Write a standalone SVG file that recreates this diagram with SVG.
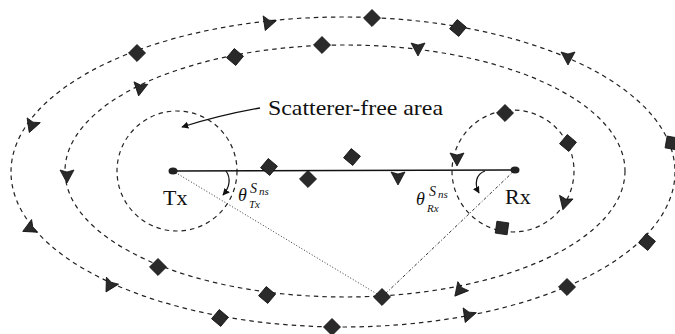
<svg xmlns="http://www.w3.org/2000/svg" width="675" height="334" viewBox="0 0 675 334">
<style>
.ring{fill:none;stroke:#222;stroke-width:1.2;stroke-dasharray:4.5 4}
.sc{fill:#2a2a2a;stroke:#111;stroke-width:0.8}
.lbl{font-family:"Liberation Serif","Times New Roman",serif;fill:#111}
.it{font-family:"Liberation Serif","Times New Roman",serif;font-style:italic;fill:#111}
.main{stroke:#111;stroke-width:1.3;fill:none}
.dot{stroke:#333;stroke-width:1;stroke-dasharray:1 2;fill:none}
.dashdot{stroke:#333;stroke-width:1;stroke-dasharray:3 2 1 2;fill:none}
.ang{stroke:#111;stroke-width:1.2;fill:none;marker-end:url(#ah)}
</style>
<defs>
<path id="dia" d="M-6,-6 H6 V6 H-6 Z"/>
<path id="tri" d="M-7,-5 L0,-3 L7,-5 L0,8 Z"/>
<marker id="ah" viewBox="0 0 10 10" refX="9" refY="5" markerWidth="7" markerHeight="7" markerUnits="userSpaceOnUse" orient="auto">
<path d="M0,0 L10,5 L0,10 Z" fill="#111"/>
</marker>
</defs>
<rect width="675" height="334" fill="#fff"/>

<g id="rings">
<ellipse class="ring" cx="343" cy="172" rx="332" ry="155"/>
<ellipse class="ring" cx="345" cy="171" rx="280" ry="126"/>
<circle class="ring" cx="177" cy="171" r="60"/>
<circle class="ring" cx="513" cy="171" r="61"/>
</g>

<g id="connectors">
<line class="main" x1="173" y1="171" x2="515" y2="170"/>
<line class="dot" x1="173" y1="171" x2="382" y2="297"/>
<line class="dashdot" x1="515" y1="170" x2="382" y2="297"/>
<path class="ang" d="M226,171 C231,178 230,187 223,195"/>
<path class="ang" d="M485,171 C476,174 474,184 479,193"/>
<path class="main" d="M260,108 Q220,115 182,127" marker-end="url(#ah)"/>
</g>

<g id="Tx">
<ellipse cx="173" cy="171" rx="4.5" ry="3.5" fill="#222"/>
<text class="lbl" x="163" y="205" font-size="22">Tx</text>
</g>
<g id="Rx">
<ellipse cx="515" cy="170" rx="4.5" ry="3.5" fill="#222"/>
<text class="lbl" x="505" y="204" font-size="22">Rx</text>
</g>

<g id="label-free">
<text class="lbl" x="268" y="115" font-size="22" textLength="175" lengthAdjust="spacingAndGlyphs">Scatterer-free area</text>
</g>

<g id="theta-tx">
<text class="it" x="238" y="201" font-size="18">θ</text>
<text class="it" x="250" y="193" font-size="14">S</text>
<text class="it" x="259" y="195" font-size="11">ns</text>
<text class="it" x="249" y="208" font-size="11">Tx</text>
</g>
<g id="theta-rx">
<text class="it" x="416" y="205" font-size="18">θ</text>
<text class="it" x="429" y="196" font-size="14">S</text>
<text class="it" x="438" y="198" font-size="11">ns</text>
<text class="it" x="427" y="212" font-size="11">Rx</text>
</g>

<g id="scatterers-line" class="sc">
<use href="#dia" transform="translate(269,167) rotate(40)"/>
<use href="#dia" transform="translate(308,179) rotate(45)"/>
<use href="#dia" transform="translate(352,157) rotate(40)"/>
<use href="#tri" transform="translate(398,177) rotate(0)"/>
</g>

<g id="scatterers-outer" class="sc">
<use href="#dia" transform="translate(137,53) rotate(45)"/>
<use href="#tri" transform="translate(32,125) rotate(20)"/>
<use href="#tri" transform="translate(268,23) rotate(20)"/>
<use href="#dia" transform="translate(372,18) rotate(45)"/>
<use href="#dia" transform="translate(458,28) rotate(40)"/>
<use href="#tri" transform="translate(568,57) rotate(0)"/>
<use href="#dia" transform="translate(672,143) rotate(10)"/>
<use href="#dia" transform="translate(647,242) rotate(40)"/>
<use href="#dia" transform="translate(567,287) rotate(45)"/>
<use href="#tri" transform="translate(468,315) rotate(20)"/>
<use href="#dia" transform="translate(332,327) rotate(45)"/>
<use href="#dia" transform="translate(220,318) rotate(40)"/>
<use href="#tri" transform="translate(110,285) rotate(30)"/>
<use href="#tri" transform="translate(30,228) rotate(65)"/>
</g>

<g id="scatterers-inner" class="sc">
<use href="#tri" transform="translate(140,88) rotate(10)"/>
<use href="#dia" transform="translate(235,57) rotate(40)"/>
<use href="#dia" transform="translate(322,45) rotate(45)"/>
<use href="#tri" transform="translate(418,48) rotate(0)"/>
<use href="#tri" transform="translate(67,175) rotate(0)"/>
<use href="#dia" transform="translate(158,267) rotate(45)"/>
<use href="#dia" transform="translate(267,295) rotate(40)"/>
<use href="#dia" transform="translate(382,297) rotate(45)"/>
<use href="#tri" transform="translate(460,290) rotate(40)"/>
</g>

<g id="scatterers-rx" class="sc">
<use href="#dia" transform="translate(505,113) rotate(45)"/>
<use href="#dia" transform="translate(568,143) rotate(40)"/>
<use href="#tri" transform="translate(565,202) rotate(15)"/>
<use href="#dia" transform="translate(502,228) rotate(8)"/>
<use href="#tri" transform="translate(457,158) rotate(0)"/>
</g>
</svg>
